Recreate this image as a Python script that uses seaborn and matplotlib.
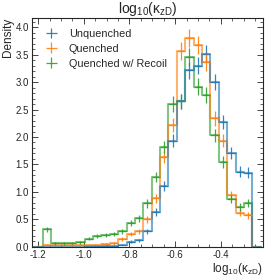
import matplotlib.pyplot as plt
from matplotlib.ticker import MultipleLocator
import numpy as np
import pandas as pd
import seaborn as sns

# bin edges of the histogram (25 bins)
bin_lo, bin_hi, n_bins = -1.18, -0.262, 25

unquenched = [0.0, 0.0, 0.0, 0.0, 0.0, 0.005, 0.01, 0.01, 0.02, 0.04, 0.09, 0.12, 0.28,
              0.63, 1.10, 1.93, 2.65, 3.22, 3.30, 3.52, 3.00, 2.28, 1.71, 1.37, 1.35]
quenched = [0.03, 0.03, 0.03, 0.03, 0.03, 0.03, 0.04, 0.05, 0.06, 0.14, 0.23, 0.28, 0.50,
            0.88, 1.64, 2.22, 3.57, 3.80, 3.67, 3.36, 2.34, 1.93, 0.94, 0.62, 0.57]
recoil = [0.32, 0.06, 0.06, 0.07, 0.08, 0.15, 0.20, 0.21, 0.23, 0.28, 0.43, 0.52, 0.79,
          1.27, 1.82, 2.60, 2.65, 3.46, 2.92, 2.77, 2.03, 1.54, 0.87, 0.73, 0.80]
variants = ["Unquenched", "Quenched", "Quenched w/ Recoil"]
colors = ["#1f77b4", "#ff7f0e", "#2ca02c"]
N_EVENTS = 3700  # used for the poisson error bars

edges = np.linspace(bin_lo, bin_hi, n_bins + 1)
centers = 0.5 * (edges[1:] + edges[:-1])
bw = edges[1] - edges[0]
# one empty bin on each side so the step outline drops to zero at the ends
pad_edges = [edges[0] - bw] + list(edges) + [edges[-1] + bw]

df = pd.concat(
    [pd.DataFrame({"x": centers, "dens": vals, "Variant": name})
     for name, vals in zip(variants, [unquenched, quenched, recoil])],
    ignore_index=True,
)

sns.set_style("ticks")
plt.rcParams["font.family"] = ["Liberation Sans", "DejaVu Sans"]
plt.rcParams["axes.unicode_minus"] = False
plt.rcParams["mathtext.fontset"] = "custom"
plt.rcParams["mathtext.rm"] = "Liberation Sans"
plt.rcParams["mathtext.it"] = "Liberation Sans"

fig = plt.figure(figsize=(2.66, 2.76), dpi=100)
ax = fig.add_axes([0.120, 0.106, 0.869, 0.829])

sns.histplot(data=df, x="x", weights="dens", hue="Variant", bins=pad_edges,
             element="step", fill=False, palette=colors, alpha=0.6, lw=1.5,
             legend=False, ax=ax)

for name, col in zip(variants, colors):
    sub = df[df.Variant == name]
    err = np.sqrt(sub.dens.values / (N_EVENTS * bw))
    ax.errorbar(sub.x, sub.dens, xerr=bw / 2, yerr=err, fmt="none", ecolor=col,
                elinewidth=0.9, alpha=0.9, label=name)

ax.set_xlim(-1.227, -0.215)
ax.set_ylim(0, 4.17)
ax.xaxis.set_major_locator(MultipleLocator(0.2))
ax.xaxis.set_minor_locator(MultipleLocator(0.05))
ax.yaxis.set_major_locator(MultipleLocator(0.5))
ax.yaxis.set_minor_locator(MultipleLocator(0.1))
ax.tick_params(which="both", direction="in", top=True, right=True, labelsize=7,
               pad=2)
ax.tick_params(which="major", length=4, width=0.6)
ax.tick_params(which="minor", length=2, width=0.5)
for s in ax.spines.values():
    s.set_linewidth(0.8)

ax.set_title(r"log$_{10}$($\kappa_{zD}$)", fontsize=10, pad=2)
ax.set_xlabel(r"log$_{10}$($\kappa_{zD}$)", fontsize=8.5, loc="right", labelpad=1)
ax.set_ylabel("Density", fontsize=8.5, loc="top", labelpad=1)

leg = ax.legend(loc="upper left", fontsize=7.8, frameon=False, handlelength=1.6,
                handletextpad=0.8, labelspacing=0.45, borderaxespad=0.6)

fig.savefig("out.png", dpi=100)
